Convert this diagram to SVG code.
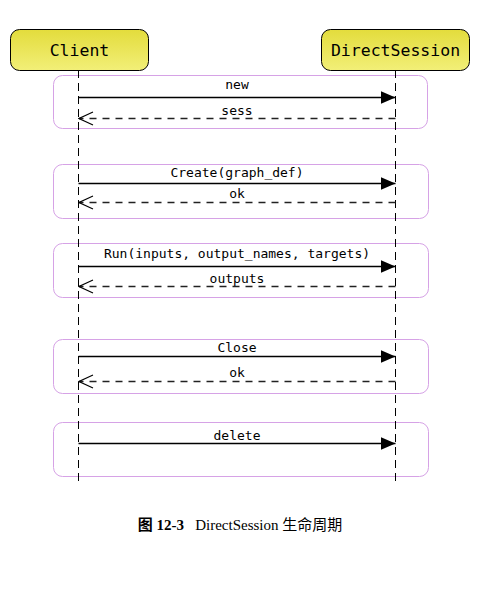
<svg xmlns="http://www.w3.org/2000/svg" width="481" height="595" viewBox="0 0 481 595">
<defs>
<linearGradient id="yg" x1="0" y1="0" x2="0" y2="1">
<stop offset="0" stop-color="#e3dc3c"/>
<stop offset="1" stop-color="#f2ef78"/>
</linearGradient>
<marker id="fill" viewBox="0 0 15 13" refX="15" refY="6.5" markerWidth="15" markerHeight="13" markerUnits="userSpaceOnUse" orient="auto">
<path d="M0,0 L15,6.5 L0,13 Z" fill="#000"/>
</marker>
<marker id="open" viewBox="-1 -1 16 15" refX="14" refY="6.5" markerWidth="16" markerHeight="15" markerUnits="userSpaceOnUse" orient="auto">
<path d="M0,0 L14,6.5 L0,13" fill="none" stroke="#000" stroke-width="1.1"/>
</marker>
</defs>
<style>
.actor{fill:url(#yg);stroke:#000;stroke-width:1}
.actorlbl{font-family:"DejaVu Sans Mono",monospace;font-size:16.5px;text-anchor:middle;fill:#000}
.life{stroke:#000;stroke-width:1;stroke-dasharray:8,5;fill:none}
.grp{fill:none;stroke:#d6a2e6;stroke-width:1}
.msg{stroke:#000;stroke-width:1.3;fill:none}
.ret{stroke:#222;stroke-width:1.3;stroke-dasharray:7,6;fill:none}
.lbl{font-family:"DejaVu Sans Mono",monospace;font-size:13px;text-anchor:middle;fill:#000}
.cap{font-family:"Liberation Serif","Noto Sans CJK SC",serif;font-size:15px;text-anchor:middle;fill:#000}
</style>
<g id="groups">
<rect class="grp" x="53.5" y="75.5" width="374" height="53" rx="9"/>
<rect class="grp" x="53.5" y="164.5" width="375" height="54" rx="9"/>
<rect class="grp" x="53.5" y="243.5" width="375" height="54" rx="9"/>
<rect class="grp" x="53.5" y="339.5" width="375" height="54" rx="9"/>
<rect class="grp" x="53.5" y="422.5" width="375" height="54" rx="9"/>
</g>
<g id="lifelines">
<line class="life" x1="78.5" y1="70" x2="78.5" y2="483"/>
<line class="life" x1="395.5" y1="70" x2="395.5" y2="483"/>
</g>
<g id="client">
<rect class="actor" x="10.5" y="29.5" width="138" height="41" rx="9"/>
<text class="actorlbl" x="79.5" y="56">Client</text>
</g>
<g id="directsession">
<rect class="actor" x="321.5" y="29.5" width="148" height="41" rx="9"/>
<text class="actorlbl" x="395.5" y="56">DirectSession</text>
</g>
<g id="connectors">
<line class="msg" x1="78.5" y1="97.5" x2="395.5" y2="97.5" marker-end="url(#fill)"/>
<text class="lbl" x="237" y="89">new</text>
<line class="ret" x1="395.5" y1="118.5" x2="79" y2="118.5" marker-end="url(#open)"/>
<text class="lbl" x="237" y="115">sess</text>

<line class="msg" x1="78.5" y1="183.5" x2="395.5" y2="183.5" marker-end="url(#fill)"/>
<text class="lbl" x="237" y="177">Create(graph_def)</text>
<line class="ret" x1="395.5" y1="202.5" x2="79" y2="202.5" marker-end="url(#open)"/>
<text class="lbl" x="237" y="198">ok</text>

<line class="msg" x1="78.5" y1="266.5" x2="395.5" y2="266.5" marker-end="url(#fill)"/>
<text class="lbl" x="237" y="258">Run(inputs, output_names, targets)</text>
<line class="ret" x1="395.5" y1="286.5" x2="79" y2="286.5" marker-end="url(#open)"/>
<text class="lbl" x="237" y="283">outputs</text>

<line class="msg" x1="78.5" y1="356.5" x2="395.5" y2="356.5" marker-end="url(#fill)"/>
<text class="lbl" x="237" y="352">Close</text>
<line class="ret" x1="395.5" y1="381.5" x2="79" y2="381.5" marker-end="url(#open)"/>
<text class="lbl" x="237" y="377">ok</text>

<line class="msg" x1="78.5" y1="443.5" x2="395.5" y2="443.5" marker-end="url(#fill)"/>
<text class="lbl" x="237" y="440">delete</text>
</g>
<text class="cap" x="240" y="530" xml:space="preserve"><tspan font-weight="bold">图 12-3</tspan>   DirectSession 生命周期</text>
</svg>
